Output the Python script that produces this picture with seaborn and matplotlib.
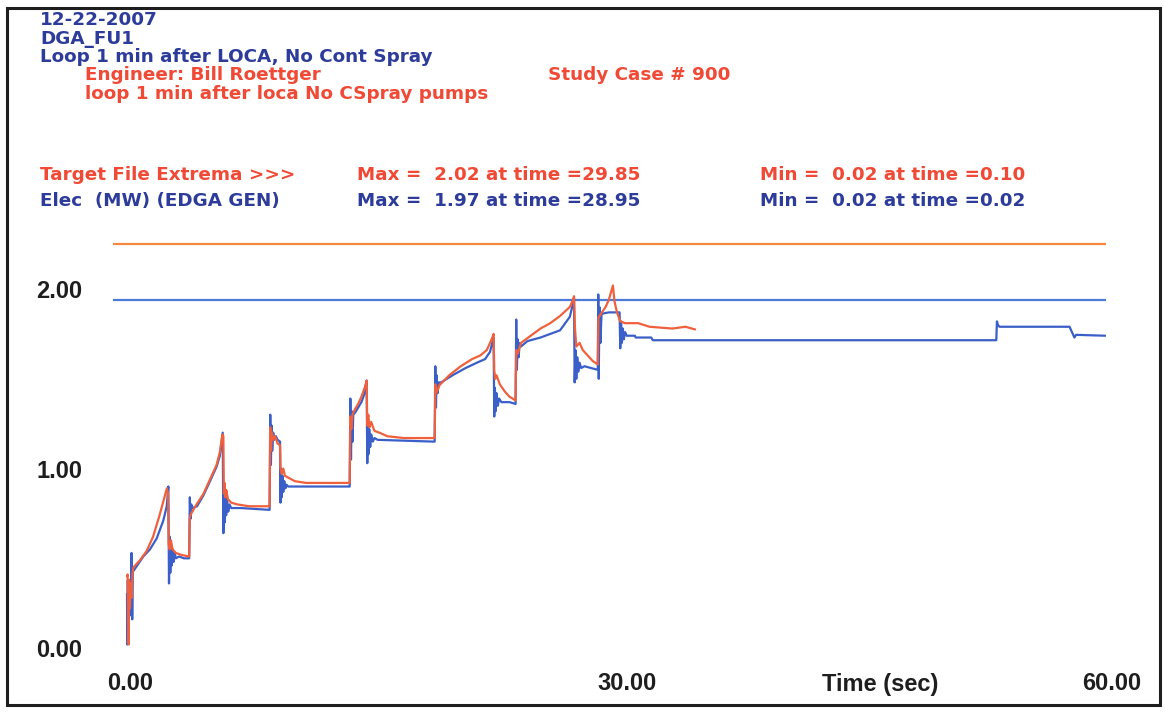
import matplotlib
matplotlib.use("Agg")
import matplotlib.pyplot as plt
import matplotlib.transforms as mtransforms
from matplotlib.patches import Rectangle
import pandas as pd
import seaborn as sns

# ---- header text -------------------------------------------------------
run_date = "12-22-2007"
run_name = "DGA_FU1"
run_title = "Loop 1 min after LOCA, No Cont Spray"
engineer = "Engineer: Bill Roettger"
study_case = "Study Case # 900"
case_note = "loop 1 min after loca No CSpray pumps"
target_name = "Target File Extrema >>>"
elec_name = "Elec  (MW) (EDGA GEN)"

# ---- traces: time (sec) and generator output (MW) ----------------------
target_time = [
    0.00, 0.04, 0.07, 0.10, 0.13, 0.18, 0.22, 0.28, 0.34, 0.40,
    0.80, 1.20, 1.60, 2.00, 2.30, 2.45, 2.52,
    2.56, 2.62, 2.70, 2.80, 3.00, 3.30, 3.82,
    3.86, 3.95, 4.20, 4.70, 5.10, 5.50, 5.70, 5.86,
    5.92, 5.95, 6.00, 6.05, 6.10, 6.20, 6.40, 6.80, 7.50, 8.76,
    8.80, 8.85, 8.90, 9.00, 9.10, 9.25, 9.40,
    9.43, 9.50, 9.60, 9.70, 9.90, 10.30, 11.00, 13.68,
    13.72, 13.78, 13.85, 14.00, 14.20, 14.40, 14.60, 14.72,
    14.76, 14.82, 14.90, 15.00, 15.20, 15.50, 16.00, 17.00, 18.90,
    18.94, 19.00, 19.20, 19.80, 20.50, 21.20, 21.70, 22.10, 22.40, 22.52,
    22.56, 22.62, 22.70, 22.90, 23.20, 23.50, 23.87,
    23.91, 24.00, 24.20, 24.80, 25.40, 26.00, 26.60, 27.20, 27.40, 27.46,
    27.52, 27.60, 27.80, 28.00, 28.30, 28.60, 28.92,
    28.96, 29.10, 29.40, 29.60, 29.85, 29.95, 30.10, 30.30, 30.60, 31.40,
    32.10, 33.50, 34.30, 34.90,
]
target_mw = [
    0.40, 0.41, 0.10, 0.02, 0.38, 0.22, 0.36, 0.28, 0.42, 0.45,
    0.49, 0.54, 0.62, 0.74, 0.84, 0.89, 0.86,
    0.58, 0.55, 0.60, 0.55, 0.53, 0.52, 0.51,
    0.73, 0.75, 0.79, 0.86, 0.94, 1.02, 1.09, 1.19,
    1.18, 0.86, 0.92, 0.84, 0.88, 0.83, 0.81, 0.80, 0.79, 0.79,
    1.23, 1.10, 1.20, 1.16, 1.18, 1.14, 1.13,
    1.00, 0.97, 1.00, 0.96, 0.95, 0.93, 0.92, 0.92,
    1.29, 1.22, 1.30, 1.33, 1.36, 1.40, 1.45, 1.49,
    1.24, 1.30, 1.23, 1.26, 1.21, 1.20, 1.18, 1.17, 1.17,
    1.47, 1.42, 1.465, 1.52, 1.57, 1.61, 1.63, 1.66, 1.72, 1.75,
    1.55, 1.50, 1.52, 1.47, 1.43, 1.40, 1.38,
    1.66, 1.64, 1.70, 1.74, 1.78, 1.81, 1.85, 1.90, 1.94, 1.96,
    1.78, 1.68, 1.70, 1.66, 1.63, 1.60, 1.58,
    1.84, 1.86, 1.90, 1.94, 2.02, 1.93, 1.87, 1.82, 1.81, 1.81,
    1.79, 1.78, 1.79, 1.775,
]

elec_time = [
    0.00, 0.02, 0.05, 0.08, 0.12, 0.16, 0.20, 0.24, 0.28, 0.32, 0.36, 0.40,
    1.00, 1.41, 1.82, 2.23, 2.44, 2.54,
    2.58, 2.62, 2.66, 2.70, 2.75, 2.80, 2.86, 2.93, 3.00, 3.20, 3.50, 3.82,
    3.86, 3.90, 3.95, 4.00, 4.30, 4.69, 5.10, 5.50, 5.70, 5.88,
    5.92, 5.96, 6.00, 6.04, 6.09, 6.15, 6.22, 6.30, 6.40, 7.00, 8.76,
    8.80, 8.84, 8.88, 8.92, 8.98, 9.05, 9.15, 9.25, 9.40,
    9.43, 9.46, 9.50, 9.55, 9.60, 9.66, 9.73, 9.80, 9.90, 13.68,
    13.72, 13.76, 13.80, 13.85, 13.90, 14.00, 14.20, 14.40, 14.60, 14.72,
    14.76, 14.79, 14.83, 14.88, 14.94, 15.00, 15.10, 15.20, 15.40, 18.90,
    18.94, 18.98, 19.02, 19.08, 19.15, 19.30, 20.00, 20.80, 21.50, 22.00, 22.30, 22.52,
    22.56, 22.60, 22.65, 22.70, 22.78, 22.86, 23.00, 23.50, 23.87,
    23.91, 23.95, 24.00, 24.06, 24.12, 24.20, 24.60, 25.40, 26.60, 27.20, 27.40, 27.46,
    27.50, 27.55, 27.60, 27.66, 27.72, 27.80, 27.90, 28.10, 28.50, 28.92,
    28.95, 28.98, 29.02, 29.08, 29.15, 29.30, 29.60, 30.26,
    30.30, 30.35, 30.40, 30.46, 30.52, 30.60, 30.70, 31.20, 31.25, 32.20, 32.30, 53.40,
    53.44, 53.50, 53.60, 57.90, 58.10, 58.20, 58.30, 60.10,
]
elec_mw = [
    0.30, 0.02, 0.38, 0.10, 0.36, 0.18, 0.34, 0.22, 0.53, 0.16, 0.44, 0.43,
    0.51, 0.55, 0.61, 0.71, 0.79, 0.90,
    0.36, 0.62, 0.42, 0.58, 0.46, 0.55, 0.48, 0.53, 0.50, 0.51, 0.50, 0.50,
    0.84, 0.72, 0.80, 0.78, 0.79, 0.85, 0.93, 1.01, 1.07, 1.20,
    0.64, 0.92, 0.70, 0.86, 0.74, 0.82, 0.76, 0.80, 0.78, 0.78, 0.77,
    1.30, 1.02, 1.24, 1.10, 1.20, 1.16, 1.18, 1.16, 1.15,
    0.81, 1.00, 0.84, 0.96, 0.87, 0.93, 0.89, 0.91, 0.90, 0.90,
    1.39, 1.05, 1.32, 1.15, 1.30, 1.31, 1.34, 1.37, 1.42, 1.49,
    1.03, 1.28, 1.08, 1.22, 1.12, 1.19, 1.15, 1.17, 1.16, 1.15,
    1.57, 1.34, 1.52, 1.42, 1.48, 1.48, 1.52, 1.56, 1.59, 1.61, 1.65, 1.73,
    1.29, 1.45, 1.32, 1.42, 1.35, 1.39, 1.37, 1.37, 1.36,
    1.83, 1.55, 1.72, 1.62, 1.70, 1.68, 1.71, 1.73, 1.77, 1.845, 1.92, 1.95,
    1.48, 1.66, 1.50, 1.62, 1.54, 1.59, 1.56, 1.57, 1.56, 1.55,
    1.97, 1.50, 1.90, 1.70, 1.86, 1.865, 1.87, 1.87,
    1.67, 1.82, 1.70, 1.78, 1.72, 1.76, 1.74, 1.74, 1.73, 1.73, 1.715, 1.715,
    1.82, 1.80, 1.79, 1.79, 1.75, 1.73, 1.745, 1.74,
]

# horizontal reference levels drawn across the plot
target_level = 2.25
elec_level = 1.94

x_ticks = [0, 30, 60]
y_ticks = [0, 1, 2]
x_label = "Time (sec)"

# ---- colours -------------------------------------------------------------
BLUE_TEXT = "#2D3C9B"
RED_TEXT = "#F04A36"
TARGET_LINE = "#F0603C"
ELEC_LINE = "#3A5FC8"
TARGET_LEVEL = "#F5883C"
ELEC_LEVEL = "#4A7BD8"
INK = "#1E1E1E"

sns.set_style("white")
plt.rcParams["font.family"] = ["Liberation Sans", "DejaVu Sans"]

W, H = 1165, 715
fig = plt.figure(figsize=(W / 100, H / 100), dpi=100)


def fx(px):
    return px / W


def fy(py):
    return 1 - py / H


# plot area
left, right, top, bottom = 113, 1106, 230, 668
ax = fig.add_axes([fx(left), fy(bottom), fx(right - left), (bottom - top) / H])

target = pd.DataFrame({"time": target_time, "mw": target_mw})
elec = pd.DataFrame({"time": elec_time, "mw": elec_mw})

ax.axhline(target_level, color=TARGET_LEVEL, lw=1.6)
ax.axhline(elec_level, color=ELEC_LEVEL, lw=1.6)
sns.lineplot(data=elec, x="time", y="mw", ax=ax, sort=False, estimator=None,
             color=ELEC_LINE, lw=1.6)
sns.lineplot(data=target, x="time", y="mw", ax=ax, sort=False, estimator=None,
             color=TARGET_LINE, lw=1.6)

ax.set_xlim(-0.86, 60.14)
ax.set_ylim(-0.111, 2.329)
for s in ax.spines.values():
    s.set_visible(False)
ax.set_xlabel("")
ax.set_ylabel("")
ax.set_xticks(x_ticks)
ax.set_xticklabels([f"{v:.2f}" for v in x_ticks])
ax.set_yticks(y_ticks)
ax.set_yticklabels([f"{v:.2f}" for v in y_ticks])
ax.tick_params(axis="both", length=0, labelsize=17, labelcolor=INK)
ax.tick_params(axis="y", pad=22)
ax.tick_params(axis="x", pad=3)
for lab in ax.get_xticklabels() + ax.get_yticklabels():
    lab.set_fontweight("bold")
# nudge the time labels to the right as in the recorder printout
for lab, dx in zip(ax.get_xticklabels(), [3, 12, 8]):
    lab.set_transform(lab.get_transform()
                      + mtransforms.ScaledTranslation(dx / 100, 0, fig.dpi_scale_trans))

fig.text(fx(880), fy(685), x_label, ha="center", va="center",
         fontsize=17, fontweight="bold", color=INK)

# ---- header block (baseline positioned) ---------------------------------
hdr = dict(fontsize=13.2, fontweight="bold", ha="left", va="baseline",
           family=["DejaVu Sans"])
fig.text(fx(40), fy(25), run_date, color=BLUE_TEXT, **hdr)
fig.text(fx(40), fy(43.5), run_name, color=BLUE_TEXT, **hdr)
fig.text(fx(40), fy(62), run_title, color=BLUE_TEXT, **hdr)
fig.text(fx(85), fy(80.5), engineer, color=RED_TEXT, **hdr)
fig.text(fx(548), fy(80.5), study_case, color=RED_TEXT, **hdr)
fig.text(fx(85), fy(99), case_note, color=RED_TEXT, **hdr)


def extrema(times, values):
    i_max = max(range(len(values)), key=lambda i: values[i])
    i_min = min(range(len(values)), key=lambda i: values[i])
    return (f"Max =  {values[i_max]:.2f} at time ={times[i_max]:.2f}",
            f"Min =  {values[i_min]:.2f} at time ={times[i_min]:.2f}")


t_max, t_min = extrema(target_time, target_mw)
e_max, e_min = extrema(elec_time, elec_mw)

fig.text(fx(40), fy(180), target_name, color=RED_TEXT, **hdr)
fig.text(fx(357), fy(180), t_max, color=RED_TEXT, **hdr)
fig.text(fx(760), fy(180), t_min, color=RED_TEXT, **hdr)
fig.text(fx(40), fy(206), elec_name, color=BLUE_TEXT, **hdr)
fig.text(fx(357), fy(206), e_max, color=BLUE_TEXT, **hdr)
fig.text(fx(760), fy(206), e_min, color=BLUE_TEXT, **hdr)

# printout frame
fig.patches.append(Rectangle((fx(7), fy(705)), fx(1160 - 7), (705 - 8) / H,
                             transform=fig.transFigure, fill=False,
                             lw=2.2, edgecolor=INK))

fig.savefig("out.png", dpi=100, facecolor="white")
